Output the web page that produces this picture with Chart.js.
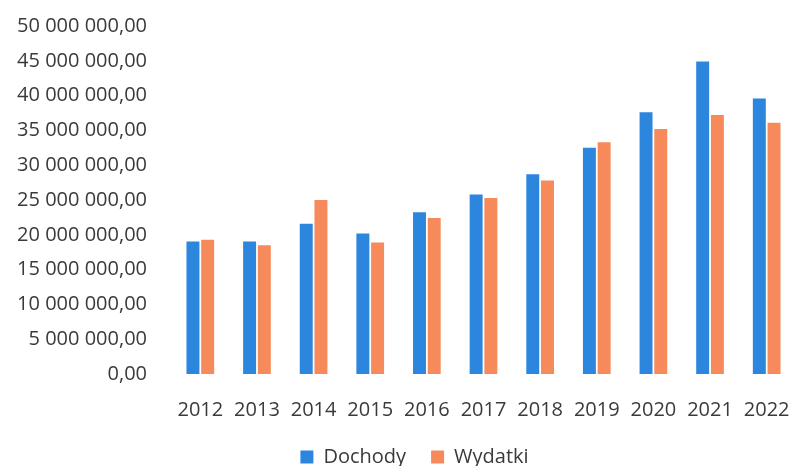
<!DOCTYPE html>
<html>
<head>
<meta charset="utf-8">
<script src="https://cdn.jsdelivr.net/npm/chart.js@4/dist/chart.umd.min.js"></script>
<style>
html,body{margin:0;padding:0;background:#fff;}
#wrap{width:795px;height:466px;position:relative;}
</style>
</head>
<body>
<div id="wrap"><canvas id="c" width="795" height="466"></canvas></div>
<script>
const years = ['2012','2013','2014','2015','2016','2017','2018','2019','2020','2021','2022'];
const dochody = [19050000,19050000,21600000,20200000,23250000,25800000,28700000,32500000,37600000,44900000,39600000];
const wydatki = [19300000,18500000,25000000,18900000,22400000,25300000,27800000,33300000,35200000,37200000,36100000];
const seriesNames = ['Dochody','Wydatki'];

function fmt(v){
  const whole = Math.round(v).toString().replace(/\B(?=(\d{3})+(?!\d))/g,' ');
  return whole + ',00';
}

const FONT = {family:'"Open Sans", sans-serif', size:20};

// shift the legend block slightly right, like the reference
const legendShift = {
  id:'legendShift',
  afterLayout(chart){
    const lg = chart.legend;
    if (lg) { lg.left += 17; lg.right += 17; }
  }
};

new Chart(document.getElementById('c'),{
  type:'bar',
  data:{
    labels:years,
    datasets:[
      {label:seriesNames[0],data:dochody,backgroundColor:'#2d86de',borderWidth:0,categoryPercentage:0.52,barPercentage:0.88},
      {label:seriesNames[1],data:wydatki,backgroundColor:'#f68a5b',borderWidth:0,categoryPercentage:0.52,barPercentage:0.88}
    ]
  },
  plugins:[legendShift],
  options:{
    responsive:false,
    animation:false,
    devicePixelRatio:1,
    layout:{padding:{top:26,right:0,bottom:-11,left:0}},
    plugins:{
      legend:{
        position:'bottom',
        labels:{font:FONT,color:'#3a3a3a',boxWidth:13,boxHeight:13,padding:25}
      },
      tooltip:{enabled:false}
    },
    scales:{
      x:{
        grid:{display:false,drawTicks:false},
        border:{display:false},
        ticks:{font:FONT,color:'#3a3a3a',padding:24,maxRotation:0},
        afterFit:(s)=>{s.height = s.height - 24; s.paddingLeft=0; s.paddingRight=0;}
      },
      y:{
        min:0,max:50000000,
        grid:{display:false,drawTicks:false},
        border:{display:false},
        ticks:{stepSize:5000000,font:FONT,color:'#3a3a3a',padding:25,callback:(v)=>fmt(v)},
        afterFit:(s)=>{s.width=172; s.paddingTop=0;}
      }
    }
  }
});
</script>
</body>
</html>
